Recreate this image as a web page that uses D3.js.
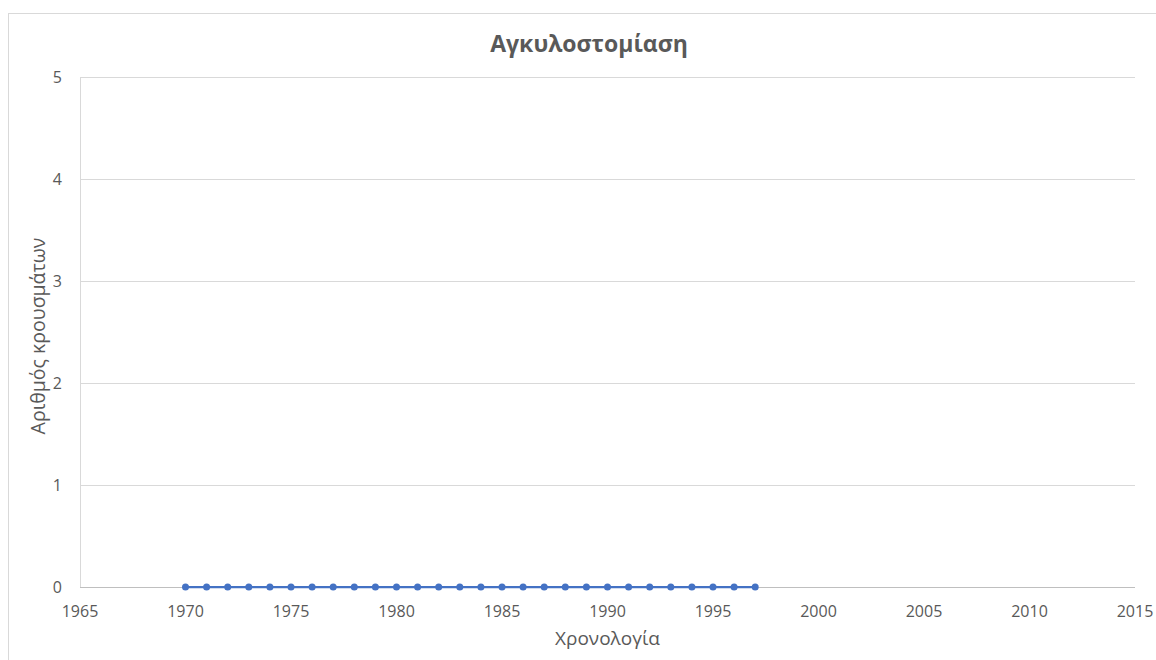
<!DOCTYPE html>
<html>
<head>
<meta charset="utf-8">
<script src="https://cdn.jsdelivr.net/npm/d3@7"></script>
<style>
  html, body { margin: 0; padding: 0; background: #fff; }
  svg { display: block; font-family: "Open Sans", "Noto Sans", sans-serif; }
</style>
</head>
<body>
<svg id="chart" width="1156" height="660"></svg>
<script>
// Annual hookworm cases
const years = [1970, 1971, 1972, 1973, 1974, 1975, 1976, 1977, 1978, 1979,
               1980, 1981, 1982, 1983, 1984, 1985, 1986, 1987, 1988, 1989,
               1990, 1991, 1992, 1993, 1994, 1995, 1996, 1997];
const cases = [0, 0, 0, 0, 0, 0, 0, 0, 0, 0,
               0, 0, 0, 0, 0, 0, 0, 0, 0, 0,
               0, 0, 0, 0, 0, 0, 0, 0];
const xTicks = [1965, 1970, 1975, 1980, 1985, 1990, 1995, 2000, 2005, 2010, 2015];
const yTicks = [0, 1, 2, 3, 4, 5];

const titleText = "Αγκυλοστομίαση";
const xTitle = "Χρονολογία";
const yTitle = "Αριθμός κρουσμάτων";

const svg = d3.select("#chart");
const m = { left: 80, right: 1135, top: 77, bottom: 587 };

const x = d3.scaleLinear().domain([1965, 2015]).range([m.left, m.right]);
const y = d3.scaleLinear().domain([0, 5]).range([m.bottom, m.top]);

// chart frame
svg.append("rect")
  .attr("x", 8.5).attr("y", 13.5)
  .attr("width", 1160).attr("height", 660)
  .attr("fill", "#fff").attr("stroke", "#d9d9d9").attr("stroke-width", 1);

// horizontal gridlines
svg.append("g").selectAll("line")
  .data(yTicks.filter(d => d > 0))
  .join("line")
  .attr("x1", m.left).attr("x2", m.right)
  .attr("y1", d => Math.round(y(d)) + 0.5).attr("y2", d => Math.round(y(d)) + 0.5)
  .attr("stroke", "#d9d9d9").attr("stroke-width", 1);

// vertical axis line
svg.append("line")
  .attr("x1", m.left + 0.5).attr("x2", m.left + 0.5)
  .attr("y1", m.top).attr("y2", m.bottom)
  .attr("stroke", "#d9d9d9").attr("stroke-width", 1);

// horizontal axis line
svg.append("line")
  .attr("x1", m.left).attr("x2", m.right)
  .attr("y1", y(0) + 0.5).attr("y2", y(0) + 0.5)
  .attr("stroke", "#bfbfbf").attr("stroke-width", 1);

// y tick labels
svg.append("g").selectAll("text")
  .data(yTicks)
  .join("text")
  .attr("x", m.left - 18)
  .attr("y", d => y(d))
  .attr("dy", "0.36em")
  .attr("text-anchor", "end")
  .attr("font-size", 16)
  .attr("fill", "#595959")
  .text(d => d);

// x tick labels
svg.append("g").selectAll("text")
  .data(xTicks)
  .join("text")
  .attr("x", d => x(d))
  .attr("y", m.bottom + 30)
  .attr("text-anchor", "middle")
  .attr("font-size", 16)
  .attr("fill", "#595959")
  .text(d => d);

// series line
const line = d3.line().x((d, i) => x(years[i])).y(d => y(d));
svg.append("path")
  .datum(cases)
  .attr("d", line)
  .attr("fill", "none")
  .attr("stroke", "#4472c4")
  .attr("stroke-width", 2.25);

// series markers
svg.append("g").selectAll("circle")
  .data(cases)
  .join("circle")
  .attr("cx", (d, i) => x(years[i]))
  .attr("cy", d => y(d))
  .attr("r", 3.5)
  .attr("fill", "#4472c4");

// title
svg.append("text")
  .attr("x", 589)
  .attr("y", 52)
  .attr("text-anchor", "middle")
  .attr("font-size", 23)
  .attr("font-weight", "bold")
  .attr("fill", "#595959")
  .text(titleText);

// axis titles
svg.append("text")
  .attr("x", (m.left + m.right) / 2)
  .attr("y", 645)
  .attr("text-anchor", "middle")
  .attr("font-size", 19)
  .attr("fill", "#595959")
  .text(xTitle);

svg.append("text")
  .attr("transform", `translate(45, 336) rotate(-90)`)
  .attr("text-anchor", "middle")
  .attr("font-size", 19.5)
  .attr("fill", "#595959")
  .text(yTitle);
</script>
</body>
</html>
